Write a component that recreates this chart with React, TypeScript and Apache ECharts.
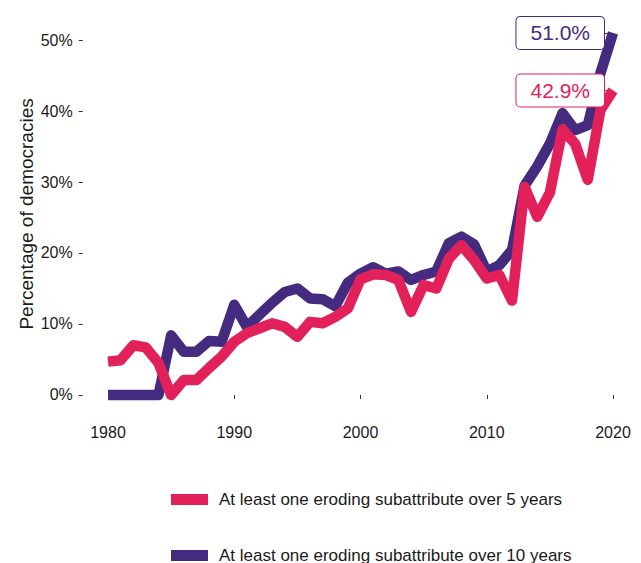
import React, { useEffect, useRef } from "react";
import * as echarts from "echarts";

const years: number[] = [
  1980, 1981, 1982, 1983, 1984, 1985, 1986, 1987, 1988, 1989,
  1990, 1991, 1992, 1993, 1994, 1995, 1996, 1997, 1998, 1999,
  2000, 2001, 2002, 2003, 2004, 2005, 2006, 2007, 2008, 2009,
  2010, 2011, 2012, 2013, 2014, 2015, 2016, 2017, 2018, 2019, 2020,
];

const over5: number[] = [
  4.7, 4.9, 7.0, 6.7, 4.5, 0.0, 2.1, 2.1, 3.8, 5.4,
  7.5, 8.7, 9.4, 10.1, 9.6, 8.2, 10.3, 10.1, 11.0, 12.2,
  16.3, 17.0, 16.9, 16.2, 11.7, 15.5, 15.0, 19.2, 21.1, 19.0,
  16.4, 16.9, 13.3, 29.3, 25.1, 28.5, 37.4, 35.4, 30.3, 40.1, 42.9,
];

const over10: number[] = [
  0, 0, 0, 0, 0, 8.4, 6.1, 6.1, 7.6, 7.5,
  12.7, 9.6, 11.3, 13.0, 14.5, 15.0, 13.6, 13.5, 12.5, 15.8,
  17.1, 18.0, 17.1, 17.4, 16.2, 16.9, 17.4, 21.4, 22.3, 21.2,
  17.4, 18.3, 20.4, 29.5, 32.2, 35.4, 39.7, 37.3, 38.0, 45.3, 51.0,
];

const seriesNames: string[] = [
  "At least one eroding subattribute over 5 years",
  "At least one eroding subattribute over 10 years",
];

const yTicks: number[] = [0, 10, 20, 30, 40, 50];
const xTicks: number[] = [1980, 1990, 2000, 2010, 2020];

const RED = "#E2215B";
const PURPLE = "#452B80";
const FONT = "'Liberation Sans', Arial, Helvetica, sans-serif";
const TEXT = "#1a1a1a";

function makeSeries(name: string, values: number[], color: string) {
  const lastIdx = values.length - 1;
  return {
    name,
    type: "line",
    data: years.map((y, i) => [y, values[i]]),
    showSymbol: false,
    symbol: "none",
    color,
    lineStyle: { width: 10.5, color, cap: "butt", join: "round" },
    itemStyle: { color },
    z: name === seriesNames[0] ? 3 : 2,
    markPoint: {
      silent: true,
      animation: false,
      symbol: "circle",
      symbolSize: 0,
      data: [
        {
          coord: [years[lastIdx], values[lastIdx]],
          value: values[lastIdx],
          label: {
            show: true,
            position: "left",
            distance: 9,
            formatter: () => values[lastIdx].toFixed(1) + "%",
            color,
            fontFamily: FONT,
            fontSize: 21,
            backgroundColor: "#ffffff",
            borderColor: color,
            borderWidth: 1,
            borderRadius: 4,
            padding: [6, 14, 5, 14],
          },
        },
      ],
    },
    markLine: {
      silent: true,
      animation: false,
      symbol: "none",
      label: { show: false },
      lineStyle: { color, width: 1, type: "solid" },
      data: [
        [
          { coord: [years[lastIdx] - 0.75, values[lastIdx]] },
          { coord: [years[lastIdx] - 0.35, values[lastIdx]] },
        ],
      ],
    },
  };
}

const legendBase = {
  orient: "horizontal",
  left: 166,
  itemWidth: 37,
  itemHeight: 11,
  icon: "rect",
  textStyle: { fontSize: 17, color: TEXT, fontFamily: FONT, padding: [0, 0, 0, 6] },
};

export default function App() {
  const ref = useRef<HTMLDivElement>(null);

  useEffect(() => {
    document.body.style.margin = "0";
    if (!ref.current) return;
    const chart = echarts.init(ref.current, undefined, { renderer: "svg" });
    chart.setOption({
      animation: false,
      backgroundColor: "#ffffff",
      textStyle: { fontFamily: FONT },
      grid: { left: 82.75, right: 2.75, top: 14.8, bottom: 149.9, containLabel: false },
      xAxis: {
        type: "value",
        min: 1978,
        max: 2022,
        axisLine: { show: false },
        splitLine: { show: false },
        axisTick: {
          show: true,
          customValues: xTicks,
          length: 4,
          lineStyle: { color: "#333333", width: 1 },
        },
        axisLabel: {
          customValues: xTicks,
          margin: 11,
          fontSize: 16,
          color: TEXT,
          fontFamily: FONT,
          formatter: (v: number) => String(v),
        },
      },
      yAxis: {
        type: "value",
        min: -2.55,
        max: 53.55,
        name: "Percentage of democracies",
        nameLocation: "middle",
        nameGap: 47,
        nameMoveOverlap: false,
        nameTextStyle: { fontSize: 19, color: TEXT, fontFamily: FONT },
        axisLine: { show: false },
        splitLine: { show: false },
        axisTick: {
          show: true,
          customValues: yTicks,
          length: 4,
          lineStyle: { color: "#333333", width: 1 },
        },
        axisLabel: {
          customValues: yTicks,
          margin: 10,
          fontSize: 16,
          color: TEXT,
          fontFamily: FONT,
          formatter: (v: number) => v + "%",
        },
      },
      legend: [
        { ...legendBase, top: 486, data: [seriesNames[0]] },
        { ...legendBase, top: 542, data: [seriesNames[1]] },
      ],
      series: [
        makeSeries(seriesNames[1], over10, PURPLE),
        makeSeries(seriesNames[0], over5, RED),
      ],
    });
    return () => chart.dispose();
  }, []);

  return <div ref={ref} style={{ width: 641, height: 563 }} />;
}
